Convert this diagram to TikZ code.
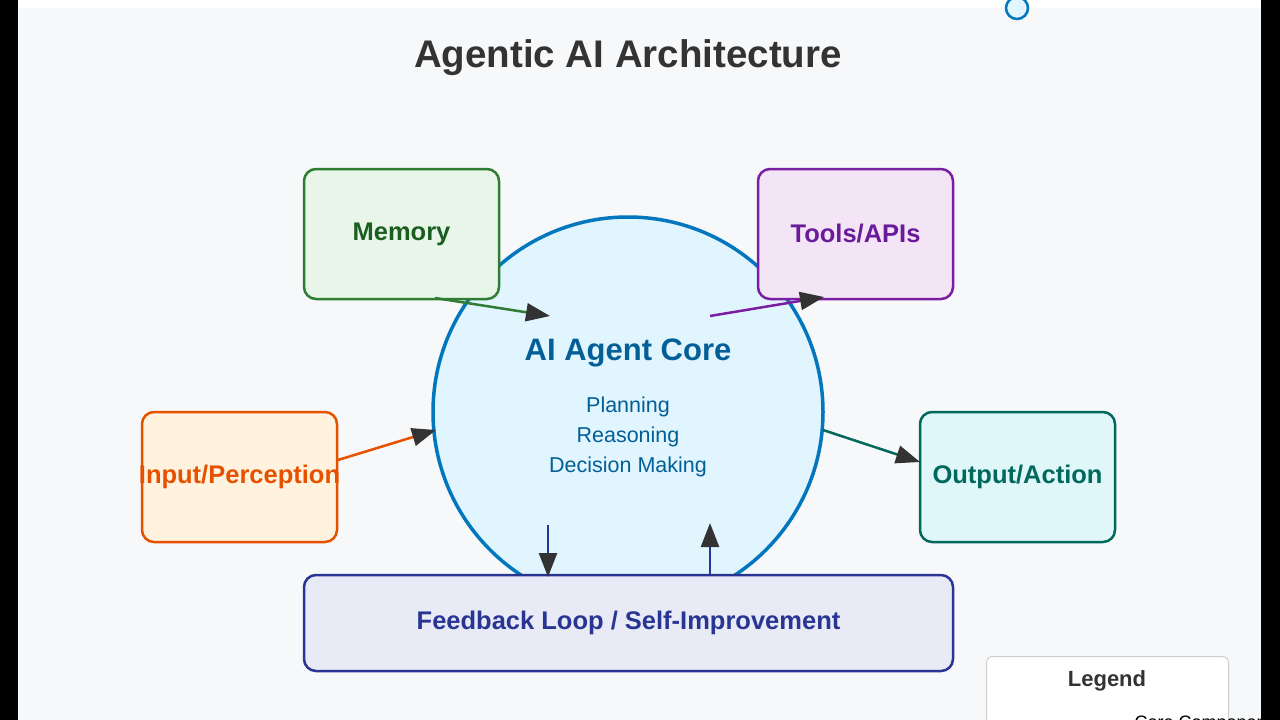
\documentclass[tikz,border=0pt]{standalone}
\usepackage{fontspec}
\setmainfont{Liberation Sans}
\usetikzlibrary{arrows.meta}
\definecolor{bg}{HTML}{F7F8FA}
\definecolor{cfill}{HTML}{E1F5FE}\definecolor{cline}{HTML}{0277BD}
\definecolor{mfill}{HTML}{E8F5E9}\definecolor{mline}{HTML}{2E7D32}\definecolor{mtext}{HTML}{1B5E20}
\definecolor{tfill}{HTML}{F3E5F5}\definecolor{tline}{HTML}{7B1FA2}\definecolor{ttext}{HTML}{6A1B9A}
\definecolor{ifill}{HTML}{FFF3E0}\definecolor{iline}{HTML}{E65100}
\definecolor{ofill}{HTML}{E0F7FA}\definecolor{oline}{HTML}{00695C}
\definecolor{ffill}{HTML}{E8EAF6}\definecolor{fline}{HTML}{283593}
\definecolor{tip}{HTML}{333333}
\begin{document}
\begin{tikzpicture}[x=1pt,y=-1pt,
  box/.style={draw,line width=2.5pt,rounded corners=12pt,minimum width=195pt,minimum height=130pt,font=\fontsize{25.5}{28}\selectfont\bfseries},
  arr/.style={line width=2.5pt,-{Triangle[length=24pt,width=18pt,fill=tip,color=tip]}}]
\useasboundingbox (0,0) rectangle (1280,720);
\fill[white] (0,0) rectangle (1280,720);
\fill[bg] (18,8) rectangle (1261,720);
\node[font=\fontsize{38.5}{42}\selectfont\bfseries,text=tip] (title) at (628,58) {Agentic AI Architecture};
\node[circle,draw=cline,fill=cfill,line width=3.5pt,minimum size=390pt] (core) at (628,412) {};
\node[font=\fontsize{31}{34}\selectfont\bfseries,text=cline!80!black] (coret) at (628,353) {AI Agent Core};
\node[font=\fontsize{21.5}{24}\selectfont,text=cline!80!black,align=center] (subs) at (628,437) {Planning\\[6pt]Reasoning\\[6pt]Decision Making};
\node[box,draw=mline,fill=mfill,text=mtext] (mem) at (401.5,234) {Memory};
\node[box,draw=tline,fill=tfill,text=ttext] (tools) at (855.5,234) {Tools/APIs};
\node[box,draw=iline,fill=ifill,text=iline] (inp) at (239.5,477) {};
\node[font=\fontsize{25.5}{28}\selectfont\bfseries,text=iline] (inpt) at (239.5,477) {Input/Perception};
\node[box,draw=oline,fill=ofill,text=oline] (out) at (1017.5,477) {Output/Action};
\node[box,draw=fline,fill=ffill,text=fline,minimum width=649pt,minimum height=96pt] (fb) at (628.5,623) {Feedback Loop / Self-Improvement};
\coordinate (m1) at (435,298); \coordinate (m2) at (550,316);
\coordinate (t1) at (710,316); \coordinate (t2) at (824,297);
\coordinate (i1) at (338,460); \coordinate (i2) at (436,430);
\coordinate (o1) at (823,430); \coordinate (o2) at (920,462);
\coordinate (d1) at (548,525); \coordinate (d2) at (548,577);
\coordinate (u1) at (710,575); \coordinate (u2) at (710,523);
\draw[arr,mline] (m1) -- (m2);
\draw[arr,tline] (t1) -- (t2);
\draw[arr,iline] (i1) -- (i2);
\draw[arr,oline] (o1) -- (o2);
\draw[arr,fline] (d1) -- (d2);
\draw[arr,fline] (u1) -- (u2);
\node[draw=black!20,fill=white,line width=1pt,rounded corners=6pt,minimum width=242pt,minimum height=80pt,anchor=north west] (leg) at (986,656) {};
\node[font=\fontsize{22}{24}\selectfont\bfseries,text=tip] (legt) at (1107,681) {Legend};
\node[font=\fontsize{18}{20}\selectfont,text=black,anchor=west] (legc) at (1131,724) {Core Component};
\node[circle,draw=cline,fill=cfill,line width=2.5pt,minimum size=22pt,inner sep=0pt] (dot) at (1017,8) {};
\fill[black] (0,0) rectangle (18,720);
\fill[black] (1261,0) rectangle (1280,720);
\end{tikzpicture}
\end{document}
